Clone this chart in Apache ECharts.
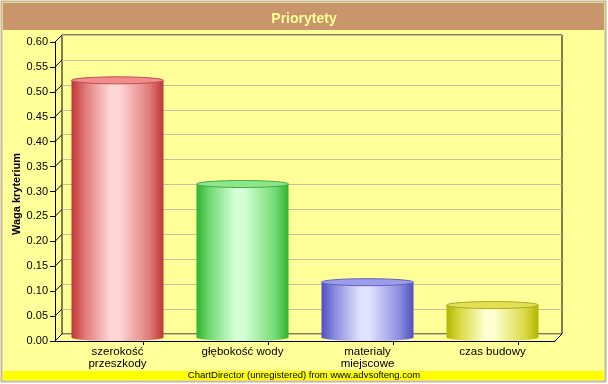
<!DOCTYPE html>
<html><head><meta charset="utf-8">
<script src="https://cdn.jsdelivr.net/npm/echarts@6/dist/echarts.min.js"></script>
<style>html,body{margin:0;padding:0;background:#fff}#c{width:608px;height:384px}</style>
</head><body><div id="c"></div>
<script>
const categories = ['szerokość\nprzeszkody', 'głębokość wody', 'materialy\nmiejscowe', 'czas budowy'];
const values = [0.516, 0.308, 0.111, 0.065];
const yTicks = [0.00, 0.05, 0.10, 0.15, 0.20, 0.25, 0.30, 0.35, 0.40, 0.45, 0.50, 0.55, 0.60];
const titleText = 'Priorytety';
const yTitle = 'Waga kryterium';
const footer = 'ChartDirector (unregistered) from www.advsofteng.com';

const palettes = [
  {edge:'#c23434', mid:'#ffd6d6', side:'#e07a7a', top:'#f28c8c', stroke:'#b85050'},
  {edge:'#2fb22f', mid:'#d4ffd4', side:'#74dc74', top:'#8ae88a', stroke:'#48a848'},
  {edge:'#5050c0', mid:'#e2e2ff', side:'#8c8ce0', top:'#9c9cea', stroke:'#6060b8'},
  {edge:'#b4b400', mid:'#ffffd0', side:'#dada48', top:'#e2e250', stroke:'#a8a830'}
];
const DEPTH = 7;

const chart = echarts.init(document.getElementById('c'), null, {renderer:'canvas'});

function grad(p){
  return new echarts.graphic.LinearGradient(0,0,1,0,[
    {offset:0,color:p.edge},{offset:0.15,color:p.side},{offset:0.42,color:p.mid},
    {offset:0.52,color:p.mid},{offset:0.85,color:p.side},{offset:1,color:p.edge}]);
}

chart.setOption({
  animation:false,
  backgroundColor:'#ffffff',
  graphic:[
    {type:'rect', z:-10, shape:{x:1.5,y:1.5,width:604,height:380}, style:{fill:'#ffff99', stroke:'#c8b896', lineWidth:2}},
    {type:'rect', z:-9, shape:{x:3,y:3,width:601,height:27}, style:{fill:'#c8966a'}},
    {type:'rect', z:-9, shape:{x:3,y:371,width:601,height:9}, style:{fill:'#ffff00'}},
    {type:'text', z:5, left:'center', top:370.5, style:{text:footer, font:'9.5px "Liberation Sans", Arial, sans-serif', fill:'#000'}},
    {type:'text', z:5, x:17, y:194, rotation:Math.PI/2,
      style:{text:yTitle, font:'bold 11px "Liberation Sans", Arial, sans-serif', fill:'#000', align:'center', verticalAlign:'middle'}}
  ],
  title:{text:titleText, left:'center', top:7,
    textStyle:{color:'#ffff99', fontSize:14, fontWeight:'bold', fontFamily:'"Liberation Sans", Arial, sans-serif'}},
  grid:[
    {left:55, top:42, right:53, bottom:43, show:false},
    {left:62, top:35, right:46, bottom:50, show:true, borderColor:'#000', borderWidth:1, backgroundColor:'transparent'}
  ],
  xAxis:[
    {type:'category', gridIndex:0, data:categories,
      axisLine:{show:true, lineStyle:{color:'#000', width:1}}, axisTick:{show:false},
      axisLabel:{color:'#000', fontSize:11.5, lineHeight:12, margin:5, fontFamily:'"Liberation Sans", Arial, sans-serif', interval:0}},
    {type:'category', gridIndex:1, data:categories, show:false}
  ],
  yAxis:[
    {type:'value', gridIndex:0, min:0, max:0.6, interval:0.05,
      axisLine:{show:true, lineStyle:{color:'#000'}}, axisTick:{show:true, length:5, lineStyle:{color:'#000'}},
      splitLine:{show:false},
      axisLabel:{color:'#000', fontSize:11, margin:7, fontFamily:'"Liberation Sans", Arial, sans-serif', formatter:v=>v.toFixed(2)}},
    {type:'value', gridIndex:1, min:0, max:0.6, interval:0.05,
      axisLine:{show:false}, axisTick:{show:false}, axisLabel:{show:false},
      splitLine:{show:true, lineStyle:{color:'#c8bfa0', width:1}}}
  ],
  series:[
    {type:'custom', xAxisIndex:0, yAxisIndex:0, z:3, silent:true,
      data: yTicks.map(v=>[0, v]),
      renderItem:(params, api)=>{
        const p = api.coord([0, api.value(1)]);
        const bw = api.size([1,0])[0];
        const x0 = p[0]-bw/2;
        return {type:'line', shape:{x1:x0, y1:p[1], x2:x0+DEPTH, y2:p[1]-DEPTH}, style:{stroke:'#000', lineWidth:1}};
      }},
    {type:'custom', xAxisIndex:0, yAxisIndex:0, z:3, silent:true,
      data: [[categories.length-1, 0]],
      renderItem:(params, api)=>{
        const p = api.coord([api.value(0), 0]);
        const bw = api.size([1,0])[0];
        const x0 = p[0]+bw/2;
        return {type:'line', shape:{x1:x0, y1:p[1], x2:x0+DEPTH, y2:p[1]-DEPTH}, style:{stroke:'#000', lineWidth:1}};
      }},
    {type:'custom', xAxisIndex:0, yAxisIndex:0, z:3, silent:true,
      data: categories.map((c,i)=>[i, 0]),
      renderItem:(params, api)=>{
        const p = api.coord([api.value(0), 0]);
        const bw = api.size([1,0])[0];
        const x = Math.round(p[0]+bw*0.2)+0.5;
        return {type:'line', shape:{x1:x, y1:p[1], x2:x, y2:p[1]+4}, style:{stroke:'#000', lineWidth:1}};
      }},
    {type:'custom', xAxisIndex:0, yAxisIndex:0, z:4, silent:true,
      data: values.map((v,i)=>[i, v]),
      renderItem:(params, api)=>{
        const i = api.value(0);
        const top = api.coord([i, api.value(1)]);
        const bot = api.coord([i, 0]);
        const bw = api.size([1,0])[0]*0.736;
        const p = palettes[i];
        const cx = top[0];
        const ry = DEPTH/2;
        const yt = top[1]-DEPTH/2, yb = bot[1]-DEPTH/2;
        const g = grad(p);
        return {type:'group', children:[
          {type:'ellipse', shape:{cx:cx, cy:yb, rx:bw/2, ry:ry}, style:{fill:g}},
          {type:'rect', shape:{x:cx-bw/2, y:yt, width:bw, height:yb-yt}, style:{fill:g}},
          {type:'ellipse', shape:{cx:cx, cy:yt, rx:bw/2, ry:ry}, style:{fill:p.top, stroke:p.stroke, lineWidth:1}}
        ]};
      }}
  ]
});
</script></body></html>
